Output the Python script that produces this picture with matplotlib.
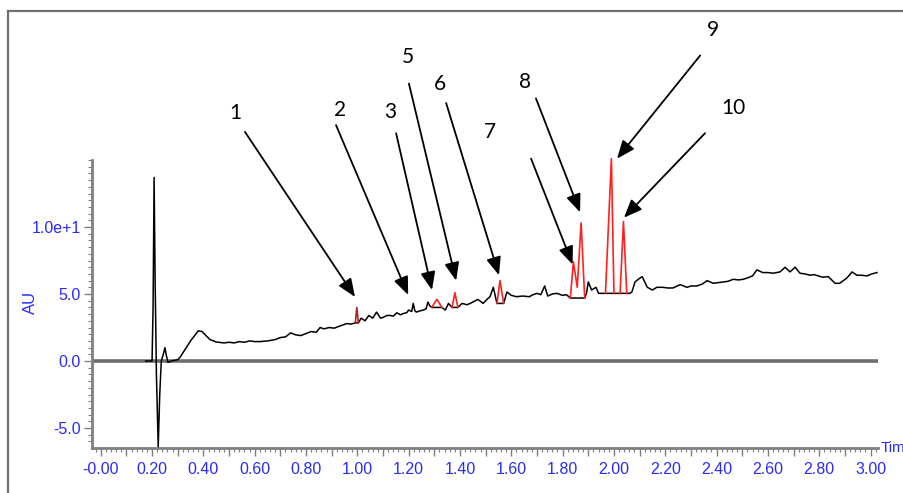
import matplotlib
matplotlib.use("Agg")
import matplotlib.pyplot as plt
from matplotlib.ticker import FixedLocator, MultipleLocator, FuncFormatter
from matplotlib.lines import Line2D

# ── Хроматограмма: базовая линия (чёрная) ────────────────────────────────
trace_t = [0.175, 0.200, 0.204, 0.208, 0.212, 0.217, 0.224, 0.230, 0.236, 0.244,
           0.250, 0.256, 0.262, 0.275, 0.300, 0.310, 0.330, 0.350, 0.370, 0.380,
           0.395, 0.410, 0.426, 0.450, 0.480, 0.500, 0.520, 0.540, 0.560, 0.580,
           0.600, 0.620, 0.650, 0.680, 0.700, 0.720, 0.740, 0.760, 0.780, 0.800,
           0.820, 0.840, 0.855, 0.870, 0.890, 0.910, 0.930, 0.945, 0.960, 0.975,
           0.992, 1.004, 1.015, 1.030, 1.045, 1.060, 1.075, 1.090, 1.100, 1.115,
           1.127, 1.140, 1.154, 1.168, 1.180, 1.192, 1.200, 1.212, 1.218, 1.224,
           1.230, 1.245, 1.257, 1.268, 1.275, 1.283, 1.290, 1.330, 1.343, 1.355,
           1.369, 1.392, 1.408, 1.427, 1.440, 1.450, 1.470, 1.490, 1.505, 1.517,
           1.530, 1.544, 1.570, 1.583, 1.600, 1.620, 1.645, 1.670, 1.685, 1.700,
           1.715, 1.730, 1.742, 1.760, 1.777, 1.800, 1.815, 1.830, 1.886, 1.893,
           1.900, 1.913, 1.930, 1.940, 1.955, 1.967, 2.000, 2.024, 2.050, 2.062,
           2.070, 2.082, 2.095, 2.110, 2.130, 2.150, 2.167, 2.190, 2.210, 2.230,
           2.258, 2.285, 2.300, 2.323, 2.345, 2.363, 2.387, 2.405, 2.426, 2.445,
           2.465, 2.485, 2.504, 2.520, 2.540, 2.557, 2.580, 2.600, 2.620, 2.647,
           2.667, 2.686, 2.706, 2.725, 2.745, 2.764, 2.780, 2.796, 2.815, 2.835,
           2.862, 2.880, 2.908, 2.928, 2.947, 2.965, 2.986, 3.005, 3.025]
trace_v = [0.0, 0.0, 4.0, 13.7, 6.0, -1.0, -6.4, -2.5, 0.0, 0.5,
           1.0, 0.4, -0.1, 0.0, 0.1, 0.3, 0.9, 1.5, 2.0, 2.25,
           2.2, 1.9, 1.6, 1.42, 1.35, 1.4, 1.35, 1.45, 1.4, 1.5,
           1.45, 1.45, 1.5, 1.6, 1.75, 1.8, 2.1, 1.95, 1.9, 2.05,
           2.2, 2.15, 2.5, 2.4, 2.5, 2.45, 2.6, 2.7, 2.8, 2.75,
           2.85, 2.85, 3.2, 3.0, 3.4, 3.2, 3.65, 3.2, 3.25, 3.4,
           3.4, 3.35, 3.6, 3.45, 3.55, 3.6, 3.8, 3.7, 4.3, 3.75,
           3.65, 3.75, 3.8, 3.9, 4.4, 4.1, 4.0, 4.0, 3.8, 4.3,
           4.0, 4.0, 4.3, 4.2, 4.3, 4.4, 4.6, 4.3, 4.6, 4.8,
           5.5, 4.3, 4.3, 5.15, 4.9, 4.8, 4.85, 4.8, 4.95, 5.05,
           4.95, 5.6, 4.85, 5.0, 5.05, 4.9, 4.95, 4.7, 4.7, 5.05,
           5.9, 5.3, 5.5, 5.05, 5.05, 5.05, 5.05, 5.05, 5.05, 5.05,
           5.15, 5.9, 6.1, 6.3, 5.5, 5.3, 5.5, 5.5, 5.45, 5.45,
           5.7, 5.5, 5.6, 5.6, 5.75, 6.0, 5.8, 5.85, 5.9, 5.95,
           6.1, 6.05, 6.1, 6.2, 6.35, 6.8, 6.6, 6.6, 6.55, 6.65,
           7.0, 6.65, 7.0, 6.55, 6.5, 6.4, 6.45, 6.35, 6.25, 6.3,
           5.8, 5.8, 6.2, 6.65, 6.4, 6.4, 6.35, 6.5, 6.6]

# ── Пики (красные) ───────────────────────────────────────────────────────
peaks = {
    1:  ([0.992, 0.998, 1.004], [2.85, 4.0, 2.85]),
    3:  ([1.290, 1.310, 1.330], [4.0, 4.6, 4.0]),
    5:  ([1.369, 1.380, 1.392], [4.0, 5.1, 4.0]),
    6:  ([1.544, 1.556, 1.570], [4.3, 6.0, 4.3]),
    78: ([1.830, 1.842, 1.857, 1.872, 1.886], [4.7, 7.4, 5.5, 10.3, 4.7]),
    9:  ([1.967, 1.990, 2.000], [5.05, 15.1, 5.05]),
    10: ([2.024, 2.037, 2.050], [5.05, 10.4, 5.05]),
}

# ── Подписи номеров пиков: (текст, остриё стрелки, начало стрелки, подпись)
labels = ["1", "2", "3", "5", "6", "7", "8", "9", "10"]
tip_t = [0.991, 1.198, 1.291, 1.385, 1.552, 1.839, 1.868, 2.012, 2.039]
tip_v = [4.78, 4.93, 5.3, 6.0, 6.4, 7.2, 11.1, 15.1, 10.7]
tail_t = [0.562, 0.917, 1.151, 1.201, 1.346, 1.677, 1.696, 2.336, 2.355]
tail_v = [17.1, 17.6, 17.0, 20.7, 19.25, 15.1, 19.6, 22.8, 17.0]
lab_t = [0.523, 0.933, 1.127, 1.198, 1.322, 1.517, 1.654, 2.387, 2.464]
lab_v = [18.5, 18.7, 18.6, 22.7, 20.7, 17.1, 20.8, 24.7, 18.9]

BLUE = "#2a2aff"
GREY = "#808080"
plt.rcParams["font.family"] = ["Liberation Sans Narrow", "Liberation Sans", "DejaVu Sans"]

fig = plt.figure(figsize=(9.04, 4.93), dpi=100)
ax = fig.add_axes([92 / 904, 45 / 493, 786 / 904, 288 / 493])
ax.set_xlim(-0.034, 3.029)
ax.set_ylim(-6.49, 15.0)

ax.axhline(0, color="#6e6e6e", linewidth=2.6, zorder=1)
ax.plot(trace_t, trace_v, color="black", linewidth=1.1, zorder=3, clip_on=False)
for key, (pt, pv) in peaks.items():
    col = "#b02020" if key == 1 else "#ff2020"
    ax.plot(pt, pv, color=col, linewidth=1.2, zorder=4, clip_on=False)

for s in ["top", "right"]:
    ax.spines[s].set_visible(False)
for s in ["left", "bottom"]:
    ax.spines[s].set_color(GREY)
    ax.spines[s].set_linewidth(2)

# оси X
ax.xaxis.set_major_locator(MultipleLocator(0.1))
ax.xaxis.set_minor_locator(MultipleLocator(0.02))
def xfmt(x, pos):
    k = round(x * 10)
    if k % 2:
        return ""
    return "-0.00" if k == 0 else f"{x:.2f}"
ax.xaxis.set_major_formatter(FuncFormatter(xfmt))
ax.tick_params(axis="x", which="major", length=6, width=1, color=GREY,
               labelcolor=BLUE, labelsize=11.5, pad=4)
ax.tick_params(axis="x", which="minor", length=3, width=0.8, color=GREY)

# ось Y
ax.yaxis.set_major_locator(FixedLocator([-5, 0, 5, 10]))
ax.yaxis.set_minor_locator(MultipleLocator(0.5))
ylab = {-5: "-5.0", 0: "0.0", 5: "5.0", 10: "1.0e+1"}
ax.yaxis.set_major_formatter(FuncFormatter(lambda y, p: ylab.get(round(y), "")))
ax.tick_params(axis="y", which="major", length=6, width=1, color=GREY,
               labelcolor=BLUE, labelsize=11.5, pad=2)
ax.tick_params(axis="y", which="minor", length=3, width=0.8, color=GREY)

fig.text(30 / 904, 1 - 302 / 493, "AU", rotation=90, color=BLUE,
         fontsize=12, ha="center", va="center")
fig.text(881 / 904, 1 - 448 / 493, "Tim", color=BLUE, fontsize=11,
         ha="left", va="center")

# стрелки с номерами пиков
for i, txt in enumerate(labels):
    ax.annotate("", xy=(tip_t[i], tip_v[i]), xytext=(tail_t[i], tail_v[i]),
                annotation_clip=False,
                arrowprops=dict(arrowstyle="-|>,head_length=1.1,head_width=0.45",
                                color="black", lw=1.3, shrinkA=0, shrinkB=0))
    ax.text(lab_t[i], lab_v[i], txt, fontsize=15, family=["Lato", "DejaVu Sans"],
            ha="center", va="center", clip_on=False)

# рамка
fig.add_artist(Line2D([8 / 904, 8 / 904], [0, 1 - 11 / 493],
                      transform=fig.transFigure, color="#707070", lw=1.6))
fig.add_artist(Line2D([8 / 904, 1], [1 - 11 / 493, 1 - 11 / 493],
                      transform=fig.transFigure, color="#707070", lw=1.6))

fig.savefig("out.png", dpi=100)
